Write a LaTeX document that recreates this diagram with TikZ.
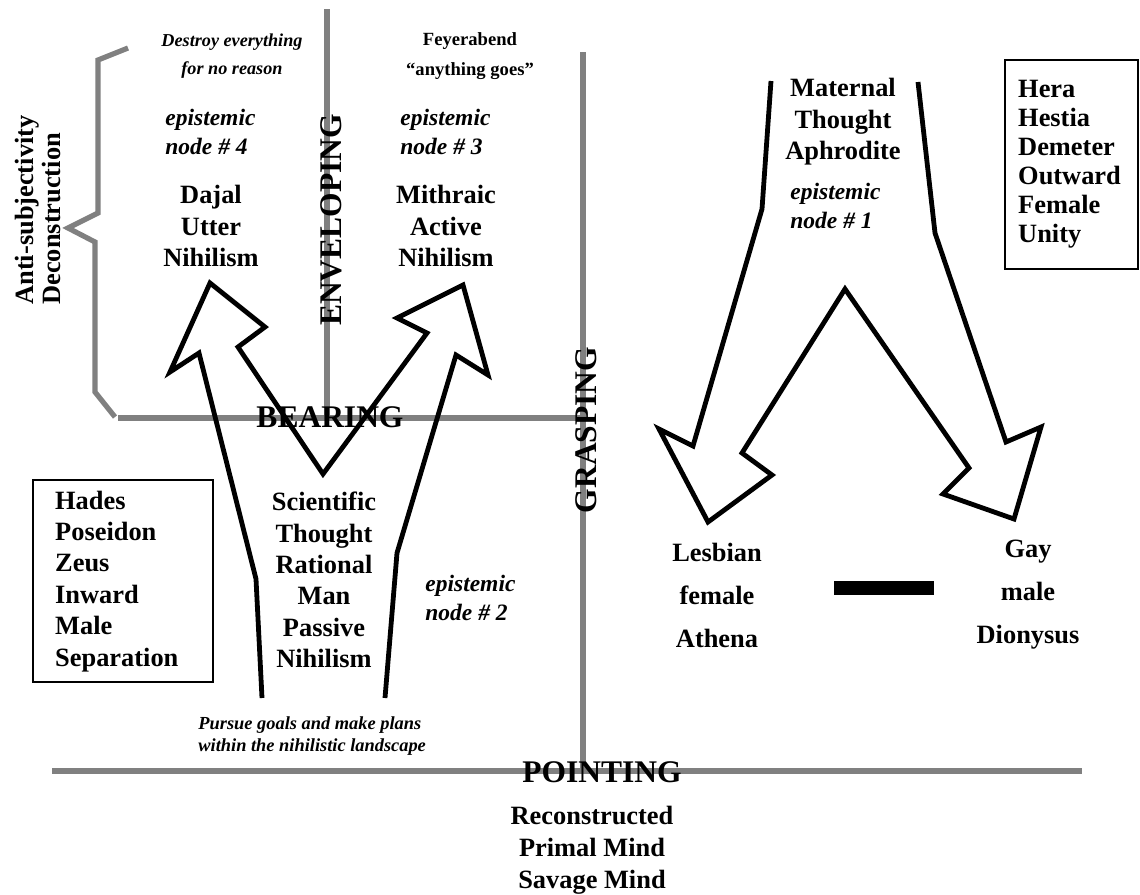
\documentclass[tikz,border=0pt]{standalone}
\usepackage{fontspec}
\setmainfont{Liberation Serif}
\definecolor{axisgray}{RGB}{128,128,128}

\begin{document}
\begin{tikzpicture}[x=0.5pt,y=-0.5pt,
  axis/.style={draw=axisgray,line width=2.6pt},
  fork/.style={draw,line width=2.4pt,line join=miter},
  godbox/.style={draw,line width=1.2pt,anchor=north west,align=left,inner ysep=0pt,font=\bfseries\fontsize{13.2}{14.5}\selectfont},
  word/.style={align=center,inner sep=0pt,font=\bfseries\fontsize{13.2}{15.7}\selectfont},
  axislabel/.style={inner sep=0pt,font=\bfseries\fontsize{15.75}{18}\selectfont},
  epi/.style={anchor=west,align=left,inner sep=0pt,font=\bfseries\itshape\fontsize{11.75}{14.5}\selectfont},
  remark/.style={align=center,inner sep=0pt,font=\bfseries\itshape\fontsize{9.1}{14}\selectfont}]
  \useasboundingbox (0,0) rectangle (1140,894);
  \draw[axis] (327,9) -- (327,418);
  \draw[axis] (118,418) -- (583,418);
  \draw[axis] (583,52) -- (583,771);
  \draw[axis] (52,771) -- (1082,771);
  \draw[axis] (128,48) -- (98,60) -- (98,213) -- (68,228) -- (95,242) -- (95,392) -- (115,417);
  \draw[fork] (262,698) -- (256,579) -- (199,353) -- (170,372) -- (210,283) -- (265,327) -- (238,347)
    -- (323,474) -- (427,333) -- (397,318) -- (463,285) -- (488,375) -- (456,355) -- (397,553) -- (385,698);
  \draw[fork] (771,81) -- (762,209) -- (693,446) -- (659,429) -- (708,522) -- (772,475) -- (742,453)
    -- (845,289) -- (969,468) -- (943,494) -- (1014,519) -- (1041,427) -- (1006,442) -- (935,233) -- (918,82);
  \node[remark] (destroy) at (232,56) {Destroy everything\\for no reason};
  \node[remark,font=\bfseries\fontsize{9.3}{15}\selectfont] (feyer) at (470,56) {Feyerabend\\“anything goes”};
  \node[epi] (epi4) at (165,132) {epistemic\\node \# 4};
  \node[epi] (epi3) at (400,132) {epistemic\\node \# 3};
  \node[word] (dajal) at (211,226) {Dajal\\Utter\\Nihilism};
  \node[word] (mithra) at (446,226) {Mithraic\\Active\\Nihilism};
  \node[axislabel,rotate=90] (envel) at (331,220) {ENVELOPING};
  \node[word] (maternal) at (843,122) {Maternal\\Thought\\Aphrodite};
  \node[epi] (epi1) at (790,206) {epistemic\\node \# 1};
  \node[godbox,minimum width=66.5pt,minimum height=104.5pt,text width=53.5pt,inner xsep=6.5pt] (hera) at (1004,59)
    {Hera\\Hestia\\Demeter\\Outward\\Female\\Unity};
  \node[word,align=left,rotate=90,font=\bfseries\fontsize{13.2}{13.5}\selectfont] (antisub) at (38,210)
    {Anti-subjectivity\\Deconstruction};
  \node[axislabel] (bearing) at (330,417) {BEARING};
  \node[axislabel,rotate=90] (grasp) at (586,430) {GRASPING};
  \node[godbox,font=\bfseries\fontsize{13.2}{15.7}\selectfont,minimum width=90pt,minimum height=101pt,text width=68pt,inner xsep=11pt] (hades) at (32,479)
    {Hades\\Poseidon\\Zeus\\Inward\\Male\\Separation};
  \node[word] (science) at (324,580) {Scientific\\Thought\\Rational\\Man\\Passive\\Nihilism};
  \node[epi] (epi2) at (425,598) {epistemic\\node \# 2};
  \node[word,font=\bfseries\fontsize{13.2}{21.5}\selectfont] (lesbian) at (717,595) {Lesbian\\female\\Athena};
  \node[word,font=\bfseries\fontsize{13.2}{21.5}\selectfont] (gay) at (1028,595) {Gay\\male\\Dionysus};
  \node[fill,minimum width=50pt,minimum height=7pt,inner sep=0pt] (bar) at (884,588) {};
  \node[remark,anchor=west,align=left,font=\bfseries\itshape\fontsize{9.2}{11}\selectfont] (pursue) at (198,736)
    {Pursue goals and make plans\\within the nihilistic landscape};
  \node[axislabel] (point) at (602,772) {POINTING};
  \node[word,font=\bfseries\fontsize{13.2}{16}\selectfont] (primal) at (592,850) {Reconstructed\\Primal Mind\\Savage Mind};
\end{tikzpicture}
\end{document}
